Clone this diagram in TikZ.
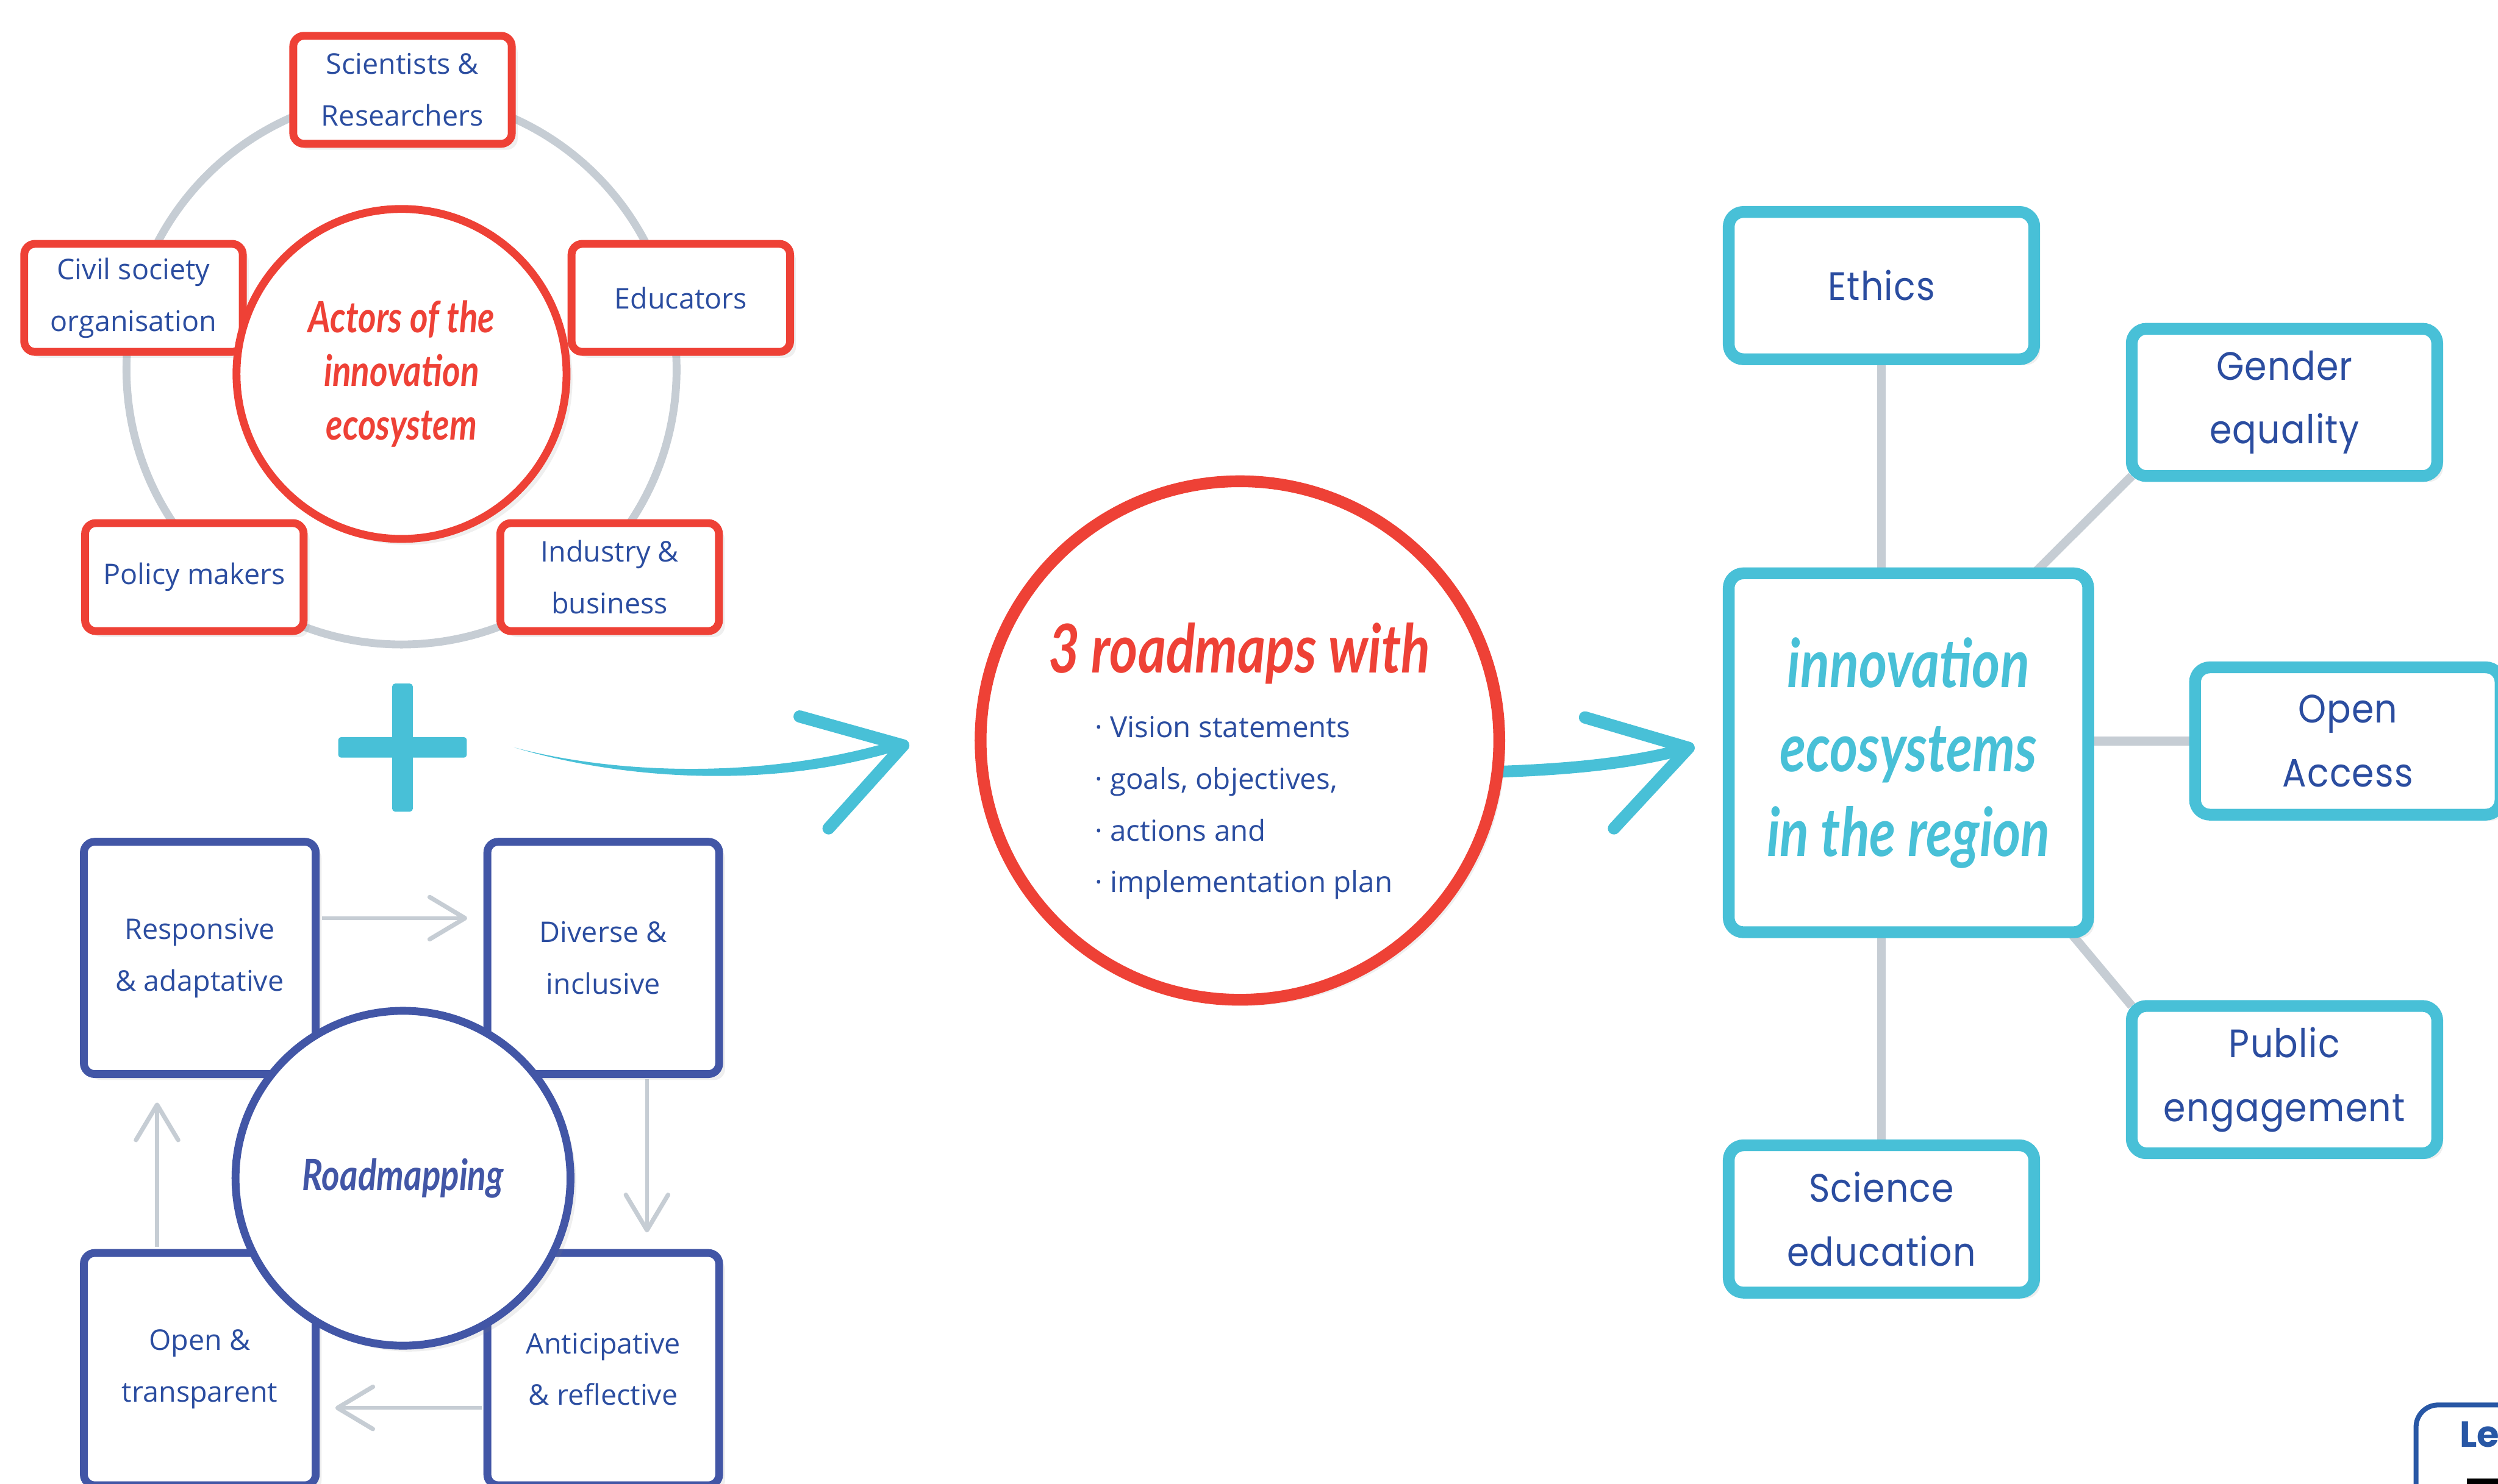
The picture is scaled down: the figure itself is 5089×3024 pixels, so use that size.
\documentclass[tikz,border=0pt]{standalone}
\usepackage{fontspec}
\usepackage{tikz}
\usetikzlibrary{arrows.meta}
\usetikzlibrary{calc}
\usetikzlibrary{shadows}
\usetikzlibrary{backgrounds}

\setmainfont{Open Sans}
\newfontfamily\handfont[FakeStretch=0.8]{Lato}
\newfontfamily\widefont[LetterSpace=2, FakeStretch=0.9]{Poppins}
\newfontfamily\legfont{Poppins}

\definecolor{actred}{HTML}{EE4136}
\definecolor{mapblue}{HTML}{4256A6}
\definecolor{ecocyan}{HTML}{48C0D7}
\definecolor{linkgray}{HTML}{C6CDD4}
\definecolor{txtblue}{HTML}{2B4DA0}
\definecolor{legblue}{HTML}{2857A5}

\tikzset{
  softshadow/.style={drop shadow={opacity=0.13, shadow xshift=0.12cm, shadow yshift=-0.12cm}},
  actor/.style={draw=actred, line width=0.16cm, fill=white, rounded corners=0.22cm,
    minimum width=4.45cm, minimum height=2.2cm, outer sep=0pt, align=center,
    text=txtblue, font=\fontsize{16.5}{30}\selectfont, softshadow},
  principle/.style={draw=mapblue, line width=0.16cm, fill=white, rounded corners=0.22cm,
    minimum width=4.72cm, minimum height=4.73cm, outer sep=0pt, align=center,
    text=txtblue, font=\fontsize{16.5}{30}\selectfont, softshadow},
  topic/.style={draw=ecocyan, line width=0.24cm, fill=white, rounded corners=0.3cm,
    minimum width=6.22cm, minimum height=3.0cm, outer sep=0pt, align=center,
    text=txtblue, font=\widefont\fontsize{23}{37}\selectfont, softshadow},
  hub/.style={circle, line width=0.16cm, fill=white, outer sep=0pt, align=center, softshadow},
  link/.style={draw=linkgray, line width=0.18cm},
  cyclearrow/.style={draw=linkgray, line width=0.08cm,
    -{Straight Barb[length=0.72cm, width=0.86cm, line width=0.09cm, round]}},
  bigarm/.style={draw=ecocyan, line width=0.25cm, line cap=round, line join=round},
}

\begin{document}
\begin{tikzpicture}[x=0.01cm, y=-0.01cm]
\useasboundingbox (0,0) rectangle (5089,3024);

% ring of actors
\draw[linkgray, line width=0.16cm] (818,753) circle [radius=5.6cm];
\node[actor] (sci) at (820,183) {Scientists \&\\Researchers};
\node[actor] (civ) at (272,607) {Civil society\\organisation};
\node[actor] (edu) at (1387,607) {Educators};
\node[actor] (pol) at (396,1176) {Policy makers};
\node[actor] (ind) at (1242,1176) {Industry \&\\business};
\node[hub, draw=actred, minimum size=6.72cm, text=actred,
  font=\handfont\bfseries\itshape\fontsize{25}{31}\selectfont] (actors) at (818,762)
  {Actors of the\\innovation\\ecosystem};

% plus
\coordinate (plus) at (820,1523);
\fill[ecocyan, rounded corners=0.06cm] ($(plus)+(-131,-21)$) rectangle ($(plus)+(131,21)$);
\fill[ecocyan, rounded corners=0.06cm] ($(plus)+(-21,-130)$) rectangle ($(plus)+(21,131)$);

% roadmapping cycle
\node[principle] (resp) at (407,1952) {Responsive\\\& adaptative};
\node[principle] (div) at (1229,1952) {Diverse \&\\inclusive};
\node[principle] (open) at (407,2790) {Open \&\\transparent};
\node[principle] (ant) at (1229,2790) {Anticipative\\\& reflective};
\begin{pgfonlayer}{background}
\draw[cyclearrow] ($(resp.east)+(13,-81)$) -- ($(div.west)+(-41,-81)$);
\draw[cyclearrow] ($(div.south)+(89,10)$) -- ($(ant.north)+(89,-42)$);
\draw[cyclearrow] ($(ant.west)+(-11,79)$) -- ($(open.east)+(40,79)$);
\draw[cyclearrow] ($(open.north)+(-87,-13)$) -- ($(resp.south)+(-87,58)$);
\end{pgfonlayer}
\node[hub, draw=mapblue, minimum size=6.82cm, text=mapblue,
  font=\handfont\bfseries\itshape\fontsize{25}{30}\selectfont] (roadmap) at (821,2401) {Roadmapping};

% arrows
\coordinate (a1s) at (1047,1523);
\coordinate (a1t) at (1840,1519);
\fill[ecocyan] (a1s) .. controls (1250,1577) and (1550,1590) .. (1820,1510)
  -- (1820,1532) .. controls (1550,1612) and (1250,1584) .. (a1s);
\draw[bigarm] (1629,1460) -- (a1t) -- (1688,1688);

\coordinate (a2s) at (3040,1573);
\coordinate (a2t) at (3440,1524);
\draw[ecocyan, line width=0.24cm] (a2s) .. controls (3200,1568) and (3330,1555) .. (a2t);
\draw[bigarm] (3229,1462) -- (a2t) -- (3288,1688);

% roadmaps
\node[hub, draw=actred, line width=0.24cm, minimum size=10.56cm] (plan) at (2526,1509) {};
\node[text=actred, font=\handfont\bfseries\itshape\fontsize{39}{40}\selectfont] (plantitle) at (2525,1331) {3 roadmaps with};
\node[anchor=west, align=left, text=txtblue, font=\fontsize{16.8}{30}\selectfont] (planlist) at (2218,1646)
  {· Vision statements\\· goals, objectives,\\· actions and\\· implementation plan};

% innovation ecosystems
\node[topic] (ethics) at (3833,582) {Ethics};
\node[topic] (gender) at (4654,820) {Gender\\equality};
\node[topic] (access) at (4783,1510) {Open\\Access};
\node[topic] (public) at (4654,2200) {Public\\engagement};
\node[topic] (science) at (3833,2484) {Science\\education};
\node[topic, minimum width=7.32cm, minimum height=7.31cm, text=ecocyan,
  font=\handfont\bfseries\itshape\fontsize{39}{49}\selectfont] (inno) at (3888,1534)
  {innovation\\ecosystems\\in the region};
\begin{pgfonlayer}{background}
\draw[link] (ethics.south) -- (ethics.south |- inno.north);
\draw[link] (inno.55) -- (gender.south west);
\draw[link] (inno.east |- access.west) -- (access.west);
\draw[link] (inno.-48) -- (public.north west);
\draw[link] (science.north) -- (science.north |- inno.south);
\end{pgfonlayer}

% legend corner
\draw[legblue, line width=0.1cm, rounded corners=0.45cm] (4922,2863) rectangle (5400,3300);
\node[anchor=base west, inner sep=0pt, text=legblue, font=\legfont\bfseries\fontsize{21}{21}\selectfont] (legtitle) at (5010,2949) {Le};
\fill[black] (5026,3013) rectangle (5100,3030);
\end{tikzpicture}
\end{document}
